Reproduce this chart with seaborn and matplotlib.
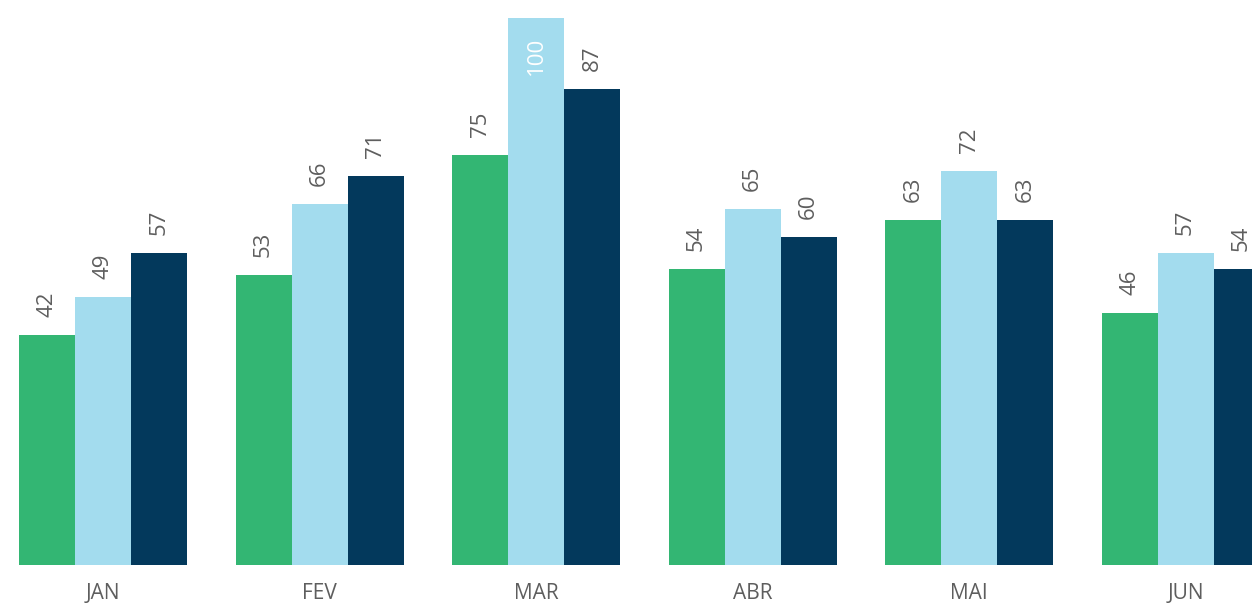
import matplotlib
matplotlib.use('Agg')
import matplotlib.pyplot as plt
import pandas as pd
import seaborn as sns

# ── Data ──────────────────────────────────────────────────────────────────────
months  = ['JAN', 'FEV', 'MAR', 'ABR', 'MAI', 'JUN']
series  = ['A', 'B', 'C']
serie_a = [42, 53, 75, 54, 63, 46]
serie_b = [49, 66, 100, 65, 72, 57]
serie_c = [57, 71, 87, 60, 63, 54]

COLORS = ['#33B673', '#A3DCEE', '#03395C']
TEXT   = '#5E5E5E'

df = pd.DataFrame({
    'mes':   months * 3,
    'serie': [s for s in series for _ in months],
    'valor': serie_a + serie_b + serie_c,
})

# ── Plot ──────────────────────────────────────────────────────────────────────
sns.set_theme(style='white')
plt.rcParams['font.family'] = ['Open Sans', 'DejaVu Sans']

fig = plt.figure(figsize=(12.52, 6.04), dpi=100)
ax = fig.add_axes([0, 0.0646, 1, 0.906])

sns.barplot(data=df, x='mes', y='valor', hue='serie', order=months,
            hue_order=series, palette=COLORS, saturation=1, width=0.776,
            linewidth=0, legend=False, ax=ax)

ax.set_xlim(-0.476, 5.307)
ax.set_ylim(0, 100)
ax.set_xlabel(''); ax.set_ylabel('')
ax.set_yticks([])
ax.tick_params(axis='x', length=0, pad=13, labelsize=15, labelcolor=TEXT)
sns.despine(ax=ax, left=True, bottom=True)

ymax = max(serie_a + serie_b + serie_c)
for cont in ax.containers:
    for bar in cont:
        h = bar.get_height()
        x = bar.get_x() + bar.get_width() / 2
        if h >= ymax:
            ax.annotate(f'{h:.0f}', (x, h), xytext=(0, -14), textcoords='offset points',
                        rotation=90, ha='center', va='top', fontsize=16, color='white')
        else:
            ax.annotate(f'{h:.0f}', (x, h), xytext=(0, 13), textcoords='offset points',
                        rotation=90, ha='center', va='bottom', fontsize=16, color=TEXT,
                        annotation_clip=False)

fig.savefig('out.png', dpi=100)
